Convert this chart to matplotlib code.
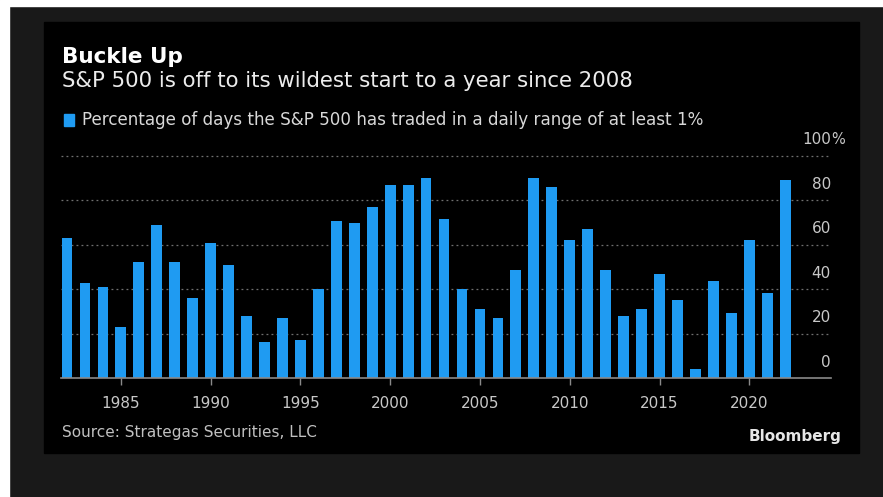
import matplotlib.pyplot as plt
from matplotlib.patches import Rectangle
from matplotlib.transforms import blended_transform_factory

# Share of days with a daily range of at least 1%
years = list(range(1982, 2023))
pct = [63.0, 43.0, 41.2, 22.9, 52.2, 68.8, 52.2, 36.0, 61.0, 51.0,
       28.2, 16.2, 27.0, 17.2, 40.2, 70.8, 69.9, 77.1, 87.0, 87.0,
       90.1, 71.8, 40.2, 31.2, 27.0, 48.9, 90.2, 86.2, 62.2, 67.3,
       48.9, 28.2, 31.2, 46.9, 35.1, 4.3, 43.8, 29.2, 62.2, 38.2,
       89.2]
xticks = [1985, 1990, 1995, 2000, 2005, 2010, 2015, 2020]
yticks = [0, 20, 40, 60, 80, 100]

W, H = 883, 497
blue = "#1f9bf2"
font = ["DejaVu Sans"]

fig = plt.figure(figsize=(W / 100, H / 100), dpi=100, facecolor="#191919")

def px(x, y, w, h):
    # pixel box (from top-left) -> figure fraction
    return (x / W, 1 - (y + h) / H, w / W, h / H)

# white strips, black panel
for box, col in [((0, 0, 9, H), "white"), ((0, 0, W, 6), "white"),
                 ((44, 22, 815, 431), "black")]:
    x0, y0, w, h = px(*box)
    fig.patches.append(Rectangle((x0, y0), w, h, transform=fig.transFigure,
                                 color=col, zorder=-5))

ax = fig.add_axes(px(60.7, 156, 770.3, 222.3))
ax.set_zorder(2)
ax.set_facecolor("black")
ax.bar(years, pct, width=0.6, color=blue, zorder=3)
ax.set_xlim(1981.65, 2024.55)
ax.set_ylim(0, 100)

for s in ["top", "left", "right"]:
    ax.spines[s].set_visible(False)
ax.spines["bottom"].set_color("#8a8a8a")
ax.spines["bottom"].set_linewidth(1.2)
ax.spines["bottom"].set_zorder(4)

for v in yticks[1:]:
    ax.axhline(v, color="#707070", lw=0.9, ls=(0, (1.5, 2.5)), zorder=1,
               clip_on=False)

ax.set_xticks(xticks)
ax.set_xticklabels([str(y) for y in xticks], family=font, fontsize=11,
                   color="#c8c8c8")
ax.tick_params(axis="x", length=5, width=1, color="#8a8a8a", pad=8)
ax.set_yticks([])

tr = blended_transform_factory(ax.transAxes, ax.transData)
for v in yticks:
    if v == 100:
        ax.text(1.0, v + 7.3, "100", transform=tr, ha="right", va="center",
                fontsize=11, color="#c8c8c8", family=font)
        ax.text(1.0, v + 7.3, "%", transform=tr, ha="left", va="center",
                fontsize=10.5, color="#c8c8c8", family=font)
    else:
        ax.text(1.0, v + 7.3, str(v), transform=tr, ha="right", va="center",
                fontsize=11, color="#c8c8c8", family=font)

# header
fig.text(62 / W, 1 - 57 / H, "Buckle Up", fontsize=15.5, fontweight="bold",
         color="white", family=font, va="center")
fig.text(62 / W, 1 - 81 / H,
         "S&P 500 is off to its wildest start to a year since 2008",
         fontsize=15.3, color="#ececec", family=font, va="center")
x0, y0, w, h = px(64, 114, 10, 12)
fig.patches.append(Rectangle((x0, y0), w, h, transform=fig.transFigure,
                             color=blue, zorder=2))
fig.text(82 / W, 1 - 120 / H,
         "Percentage of days the S&P 500 has traded in a daily range of at least 1%",
         fontsize=12.1, color="#d8d8d8", family=font, va="center")

# footer
fig.text(62 / W, 1 - 432 / H, "Source: Strategas Securities, LLC",
         fontsize=11, color="#c0c0c0", family=font, va="center")
fig.text(842 / W, 1 - 437 / H, "Bloomberg", fontsize=11, fontweight="bold",
         color="#e6e6e6", family=font, va="center", ha="right")

fig.savefig("out.png", dpi=100, facecolor=fig.get_facecolor())
